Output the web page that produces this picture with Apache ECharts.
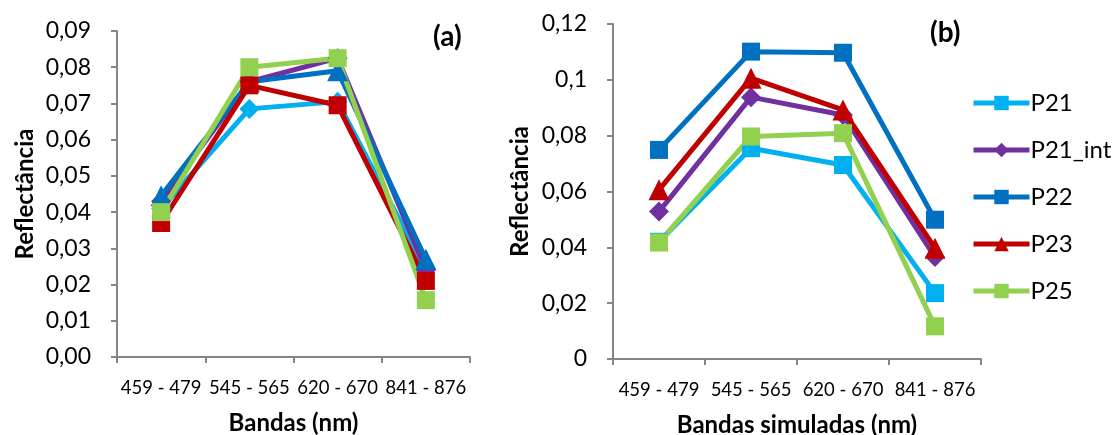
<!DOCTYPE html>
<html><head><meta charset="utf-8">
<script src="https://cdn.jsdelivr.net/npm/echarts@6/dist/echarts.min.js"></script>
<style>html,body{margin:0;padding:0;background:#fff}#c{width:1112px;height:435px}</style>
</head><body><div id="c"></div>
<script>
const categories = ['459 - 479', '545 - 565', '620 - 670', '841 - 876'];
const seriesNames = ['P21', 'P21_int', 'P22', 'P23', 'P25'];
const colors = ['#00B0F0', '#7030A0', '#0070C0', '#C00000', '#92D050'];
// chart (a)
const a_P21 = [0.041, 0.0685, 0.0705, 0.024];
const a_P21int = [0.043, 0.076, 0.0825, 0.024];
const a_P22 = [0.0445, 0.076, 0.079, 0.027];
const a_P23 = [0.037, 0.075, 0.0695, 0.021];
const a_P25 = [0.040, 0.080, 0.0825, 0.0157];
const aSymbols = ['diamond', 'diamond', 'triangle', 'rect', 'rect'];
// chart (b)
const b_P21 = [0.042, 0.0755, 0.0695, 0.0236];
const b_P21int = [0.0528, 0.0938, 0.0874, 0.0365];
const b_P22 = [0.0749, 0.1101, 0.1097, 0.0499];
const b_P23 = [0.0606, 0.1006, 0.0892, 0.0397];
const b_P25 = [0.0417, 0.0797, 0.0809, 0.0117];
const bSymbols = ['rect', 'diamond', 'rect', 'triangle', 'rect'];

const aData = [a_P21, a_P21int, a_P22, a_P23, a_P25];
const bData = [b_P21, b_P21int, b_P22, b_P23, b_P25];

const font = 'Lato, "Open Sans", sans-serif';
const axisColor = '#868686';
function symSize(s){ return s === 'rect' ? 18 : (s === 'diamond' ? 20 : 21); }

const series = [];
aData.forEach((d, i) => series.push({
  name: seriesNames[i] + ' (a)', type: 'line', xAxisIndex: 0, yAxisIndex: 0, data: d,
  symbol: aSymbols[i], symbolSize: symSize(aSymbols[i]),
  lineStyle: {width: 5, color: colors[i]}, itemStyle: {color: colors[i]}, emphasis: {disabled: true}
}));
bData.forEach((d, i) => series.push({
  name: seriesNames[i], type: 'line', xAxisIndex: 1, yAxisIndex: 1, data: d,
  symbol: bSymbols[i], symbolSize: symSize(bSymbols[i]),
  lineStyle: {width: 5, color: colors[i]}, itemStyle: {color: colors[i]}, emphasis: {disabled: true}
}));

function xAxis(idx, name) {
  return {
    type: 'category', gridIndex: idx, data: categories, boundaryGap: true,
    axisLine: {lineStyle: {color: axisColor, width: 2}},
    axisTick: {show: true, length: 6, lineStyle: {color: axisColor, width: 2}},
    axisLabel: {color: '#000', fontFamily: font, fontSize: 18.5, margin: 22, interval: 0},
    name: name, nameLocation: 'middle', nameGap: 54,
    nameTextStyle: {color: '#000', fontFamily: font, fontSize: 24, fontWeight: 'bold'}
  };
}
function yAxis(idx, max, interval, fmt, gap) {
  return {
    type: 'value', gridIndex: idx, min: 0, max: max, interval: interval,
    splitLine: {show: false},
    axisLine: {show: true, lineStyle: {color: axisColor, width: 2}},
    axisTick: {show: true, length: 6, lineStyle: {color: axisColor, width: 2}},
    axisLabel: {color: '#000', fontFamily: font, fontSize: 23, margin: 26, formatter: fmt},
    name: 'Reflectância', nameLocation: 'middle', nameGap: gap, nameRotate: 90,
    nameTextStyle: {color: '#000', fontFamily: font, fontSize: 24, fontWeight: 'bold'}
  };
}

const option = {
  animation: false,
  backgroundColor: '#fff',
  title: [
    {text: '(a)', left: 428, top: 18, textStyle: {fontFamily: font, fontSize: 28, fontWeight: 'bold', color: '#000'}},
    {text: '(b)', left: 925, top: 14, textStyle: {fontFamily: font, fontSize: 28, fontWeight: 'bold', color: '#000'}}
  ],
  grid: [
    {left: 117, top: 31, width: 353, height: 326, outerBoundsMode: 'none', containLabel: false},
    {left: 613, top: 24, width: 368, height: 335, outerBoundsMode: 'none', containLabel: false}
  ],
  xAxis: [xAxis(0, 'Bandas (nm)'), xAxis(1, 'Bandas simuladas (nm)')],
  yAxis: [
    yAxis(0, 0.09, 0.01, v => v.toFixed(2).replace('.', ','), 80),
    yAxis(1, 0.12, 0.02, v => String(+v.toFixed(2)).replace('.', ','), 81)
  ],
  legend: {
    data: seriesNames, orient: 'vertical', left: 966, top: 86, itemGap: 23,
    itemWidth: 56, itemHeight: 18,
    lineStyle: {width: 5},
    textStyle: {fontFamily: font, fontSize: 24, color: '#000', padding: [0, 0, 0, -4]}
  },
  series: series
};
const chart = echarts.init(document.getElementById('c'), null, {renderer: 'canvas'});
chart.setOption(option);
</script></body></html>
